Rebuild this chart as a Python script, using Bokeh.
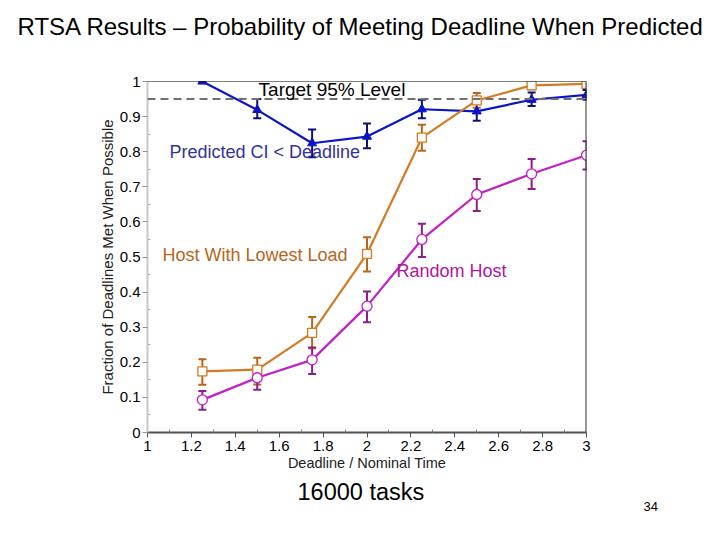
from bokeh.plotting import figure
from bokeh.models import (ColumnDataSource, Whisker, TeeHead, Span, Label, Title,
                          FixedTicker, Range1d)
from bokeh.embed import file_html
from bokeh.resources import INLINE

# ---- data ----
deadline = [1.25, 1.5, 1.75, 2.0, 2.25, 2.5, 2.75, 3.0]

pred_ci = [1.0, 0.919, 0.824, 0.843, 0.921, 0.915, 0.948, 0.962]
pred_ci_lo = [1.0, 0.895, 0.784, 0.81, 0.895, 0.888, 0.93, 0.948]
pred_ci_hi = [1.0, 0.950, 0.863, 0.880, 0.948, 0.941, 0.969, 0.976]

lowest_load = [0.174, 0.179, 0.284, 0.509, 0.840, 0.946, 0.989, 0.993]
lowest_load_lo = [0.136, 0.137, 0.240, 0.459, 0.803, 0.925, 0.978, 0.985]
lowest_load_hi = [0.209, 0.213, 0.329, 0.556, 0.877, 0.967, 0.998, 1.0]

random_host = [0.093, 0.156, 0.207, 0.360, 0.550, 0.678, 0.737, 0.790]
random_host_lo = [0.065, 0.122, 0.167, 0.314, 0.500, 0.631, 0.694, 0.749]
random_host_hi = [0.118, 0.189, 0.242, 0.402, 0.595, 0.722, 0.779, 0.830]

target_level = 0.95

x_ticks = [1.0, 1.2, 1.4, 1.6, 1.8, 2.0, 2.2, 2.4, 2.6, 2.8, 3.0]
x_tick_labels = ["1", "1.2", "1.4", "1.6", "1.8", "2", "2.2", "2.4", "2.6", "2.8", "3"]
x_minor = [1.1, 1.3, 1.5, 1.7, 1.9, 2.1, 2.3, 2.5, 2.7, 2.9]
y_ticks = [0.0, 0.1, 0.2, 0.3, 0.4, 0.5, 0.6, 0.7, 0.8, 0.9, 1.0]
y_tick_labels = ["0", "0.1", "0.2", "0.3", "0.4", "0.5", "0.6", "0.7", "0.8", "0.9", "1"]
y_minor = [0.05, 0.15, 0.25, 0.35, 0.45, 0.55, 0.65, 0.75, 0.85, 0.95]

FONT = "Liberation Sans"

p = figure(output_backend="svg", toolbar_location=None,
           frame_width=439, frame_height=351,
           min_border_left=147, min_border_right=118,
           min_border_top=81, min_border_bottom=92,
           x_range=Range1d(1, 3), y_range=Range1d(0, 1),
           background_fill_color="white", border_fill_color="white")
p.outline_line_color = None
p.grid.visible = False

# spacer between frame and title, then the title itself
p.add_layout(Title(text=" ", text_font=FONT, text_font_size="10px", standoff=28), "above")
p.add_layout(Title(text="RTSA Results \u2013 Probability of Meeting Deadline When Predicted",
                   text_font=FONT, text_font_size="24px", text_font_style="normal",
                   text_color="black", align="left", offset=-130, standoff=2), "above")

# axes
p.xaxis.ticker = FixedTicker(ticks=x_ticks, minor_ticks=x_minor)
p.yaxis.ticker = FixedTicker(ticks=y_ticks, minor_ticks=y_minor)
p.xaxis.major_label_overrides = {t: l for t, l in zip(x_ticks, x_tick_labels)}
p.yaxis.major_label_overrides = {t: l for t, l in zip(y_ticks, y_tick_labels)}
for ax in (p.xaxis, p.yaxis):
    ax.major_label_text_font = FONT
    ax.major_label_text_font_size = "15px"
    ax.major_label_text_color = "black"
    ax.axis_label_text_font = FONT
    ax.axis_label_text_font_size = "15px"
    ax.axis_label_text_font_style = "normal"
    ax.axis_label_text_color = "#222222"
    ax.major_tick_out = 5
    ax.major_tick_in = 0
    ax.minor_tick_in = 3
    ax.minor_tick_out = 0
p.xaxis.axis_label_text_font_size = "14.5px"
p.xaxis.axis_label = "Deadline / Nominal Time"
p.yaxis.axis_label = "Fraction of Deadlines Met When Possible"
p.xaxis.axis_line_color = "#505050"
p.xaxis.axis_line_width = 2
p.xaxis.major_tick_line_color = "#505050"
p.xaxis.minor_tick_line_color = "#808080"
p.yaxis.axis_line_color = "#c8c8c8"
p.yaxis.axis_line_width = 2
p.yaxis.major_tick_line_color = "#909090"
p.yaxis.minor_tick_line_color = "#b0b0b0"
p.xaxis.axis_label_standoff = 1
p.yaxis.axis_label_standoff = 1
p.xaxis.major_label_standoff = 3
p.yaxis.major_label_standoff = 2

# footer texts
p.add_layout(Title(text="16000 tasks", text_font=FONT, text_font_size="23.5px",
                   text_font_style="normal", text_color="black",
                   align="left", offset=150, standoff=6), "below")
p.add_layout(Title(text="34", text_font=FONT, text_font_size="13px",
                   text_font_style="normal", text_color="black", vertical_align="top",
                   align="left", offset=496, standoff=-12), "below")

# frame top/right borders
p.add_layout(Span(location=1.0, dimension="width", line_color="black", line_width=1.2))
p.add_layout(Span(location=3.0, dimension="height", line_color="#333333", line_width=2))

# target line
p.add_layout(Span(location=target_level, dimension="width", line_color="#707070",
                  line_width=2, line_dash="8 5"))

series = [
    (pred_ci, pred_ci_lo, pred_ci_hi, "#0a14c8", "#101070", "triangle", True, 9),
    (lowest_load, lowest_load_lo, lowest_load_hi, "#d47a22", "#b8661a", "square", False, 9),
    (random_host, random_host_lo, random_host_hi, "#c21fc4", "#8e1c8a", "circle", False, 10),
]

for vals, lo, hi, col, ecol, marker, filled, msize in series:
    src = ColumnDataSource(dict(x=deadline, y=vals, lo=lo, hi=hi))
    w = Whisker(source=src, base="x", lower="lo", upper="hi",
                line_color=ecol, line_width=2,
                upper_head=TeeHead(size=8, line_color=ecol, line_width=2),
                lower_head=TeeHead(size=8, line_color=ecol, line_width=2))
    p.add_layout(w)
    p.line("x", "y", source=src, line_color=col, line_width=2.2)
    if filled:
        p.scatter("x", "y", source=src, marker=marker, size=msize,
                  fill_color=col, line_color=col)
    else:
        p.scatter("x", "y", source=src, marker=marker, size=msize,
                  fill_color="white", line_color=col, line_width=1.3)

# text labels in the plot
def lab(x, y, text, size, color):
    p.add_layout(Label(x=x, y=y, text=text, text_font=FONT, text_font_size=size,
                       text_color=color, text_align="left", text_baseline="middle"))

lab(1.506, 0.977, "Target 95% Level", "19px", "black")
lab(1.10, 0.80, "Predicted CI < Deadline", "18px", "#333399")
lab(1.068, 0.507, "Host With Lowest Load", "18px", "#b8661a")
lab(2.134, 0.4615, "Random Host", "18px", "#b0169f")

open("out.html", "w").write(file_html(p, INLINE))
